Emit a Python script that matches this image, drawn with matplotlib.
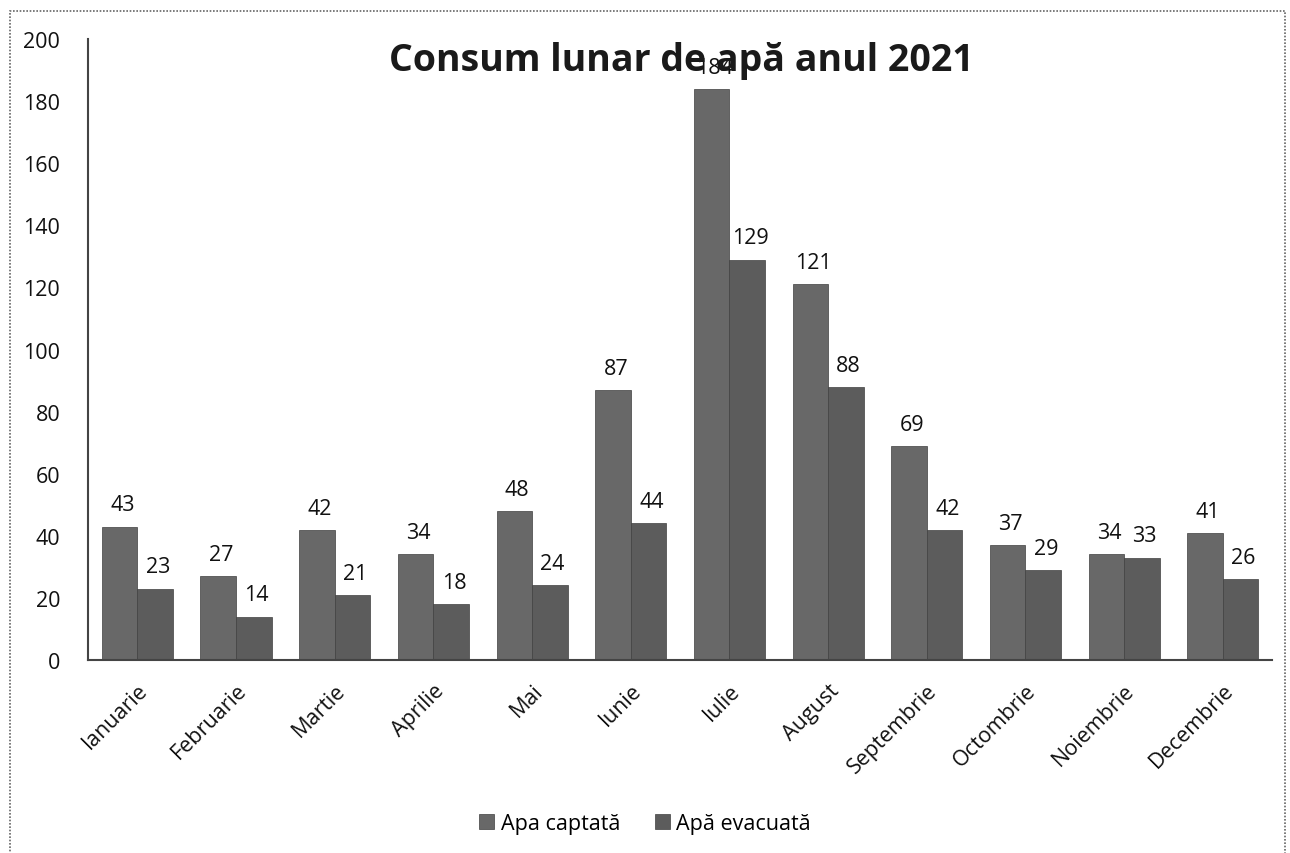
import matplotlib
matplotlib.use("Agg")
import matplotlib.pyplot as plt
from matplotlib.patches import Rectangle
import numpy as np

months = ["Ianuarie", "Februarie", "Martie", "Aprilie", "Mai", "Iunie", "Iulie",
          "August", "Septembrie", "Octombrie", "Noiembrie", "Decembrie"]
apa_captata = [43, 27, 42, 34, 48, 87, 184, 121, 69, 37, 34, 41]
apa_evacuata = [23, 14, 21, 18, 24, 44, 129, 88, 42, 29, 33, 26]
series_names = ["Apa captată", "Apă evacuată"]
yticks = [0, 20, 40, 60, 80, 100, 120, 140, 160, 180, 200]

plt.rcParams['font.family'] = ['Open Sans', 'DejaVu Sans']

fig = plt.figure(figsize=(12.9, 8.54), dpi=100)
ax = fig.add_axes([0.0682, 0.226, 0.918, 0.727])

x = np.arange(len(months))
w = 0.36
c1 = "#686868"
c2 = "#5c5c5c"
b1 = ax.bar(x - w/2, apa_captata, w, color=c1, edgecolor="#404040", linewidth=0.5, label=series_names[0])
b2 = ax.bar(x + w/2, apa_evacuata, w, color=c2, edgecolor="#404040", linewidth=0.5, label=series_names[1])

for bars, vals in ((b1, apa_captata), (b2, apa_evacuata)):
    for r, v in zip(bars, vals):
        ax.annotate(str(v), (r.get_x() + r.get_width()/2, v), xytext=(2, 8),
                    textcoords="offset points", ha="center", va="bottom",
                    fontsize=15.5, color="#111111")

ax.set_xlim(-0.5, len(months) - 0.5)
ax.set_ylim(0, 200)
ax.set_yticks(yticks)
ax.set_yticklabels([str(t) for t in yticks], fontsize=15.5, color="#111111")
ax.tick_params(axis="y", length=0, pad=20)
ax.set_xticks(x)
ax.set_xticklabels(months, rotation=45, ha="right", rotation_mode="anchor",
                   fontsize=15.5, color="#111111")
ax.tick_params(axis="x", length=0, pad=14)
for s in ("top", "right"):
    ax.spines[s].set_visible(False)
ax.spines["left"].set_color("#444444")
ax.spines["bottom"].set_color("#444444")
ax.spines["left"].set_linewidth(1.5)
ax.spines["bottom"].set_linewidth(1.5)

fig.text(0.528, 0.928, "Consum lunar de apă anul 2021", ha="center", va="center",
         fontsize=27, fontweight="bold", color="#1a1a1a")

fig.legend(handles=[b1, b2], labels=series_names, loc="center", bbox_to_anchor=(0.5, 0.034),
           ncol=2, frameon=False, fontsize=15.5, handlelength=0.7, handleheight=0.7,
           handletextpad=0.3, columnspacing=1.6)

fig.patches.append(Rectangle((0.008, -0.01), 0.988, 0.996, transform=fig.transFigure,
                             fill=False, edgecolor="#666666", linewidth=1.2, linestyle=(0, (1, 1))))

fig.savefig("out.png", dpi=100)
